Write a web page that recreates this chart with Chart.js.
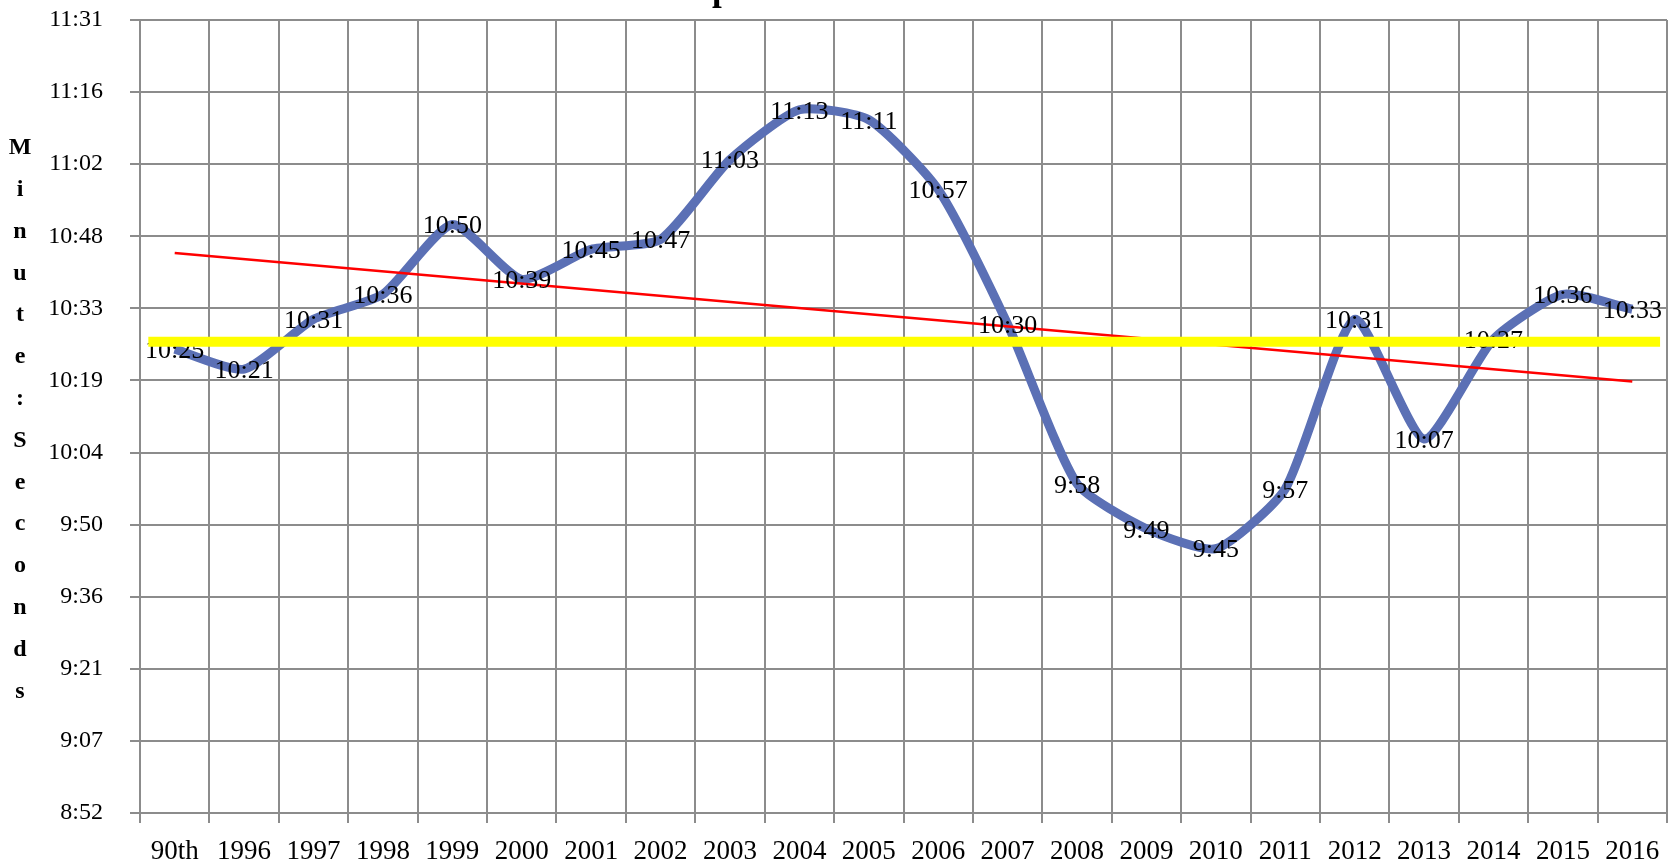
<!DOCTYPE html>
<html>
<head>
<meta charset="utf-8">
<title>90th Percentile Response Times</title>
<script src="https://cdn.jsdelivr.net/npm/chart.js@4.4.0/dist/chart.umd.min.js"></script>
<style>
  html, body { margin: 0; padding: 0; background: #fff; }
  canvas { display: block; }
</style>
</head>
<body>
<canvas id="responseChart" width="1672" height="864"></canvas>
<script>
const years = ['90th', '1996', '1997', '1998', '1999', '2000', '2001', '2002', '2003', '2004', '2005',
  '2006', '2007', '2008', '2009', '2010', '2011', '2012', '2013', '2014', '2015', '2016']

// minutes:seconds as shown on the data labels
const responseTimes = ['10:25', '10:21', '10:31', '10:36', '10:50', '10:39', '10:45', '10:47', '11:03', '11:13', '11:11',
  '10:57', '10:30', '9:58', '9:49', '9:45', '9:57', '10:31', '10:07', '10:27', '10:36', '10:33']

const yTickLabels = ['8:52', '9:07', '9:21', '9:36', '9:50', '10:04', '10:19', '10:33', '10:48', '11:02', '11:16', '11:31']
const yMin = 532   // 8:52 in seconds
const yMax = 691   // 11:31 in seconds

// yellow bar across the chart (seconds), and where it starts / ends in category units
const goalValue = 626.5
const goalFrom = -0.38
const goalTo = 21.4

const chartTitle = 'EMS 90th Percentile Total Response Times 1996 - 2016'
const yTitle = 'Minute:Seconds'

const FONT = "'Liberation Serif', 'Times New Roman', serif"
const GRID = '#8c8c8c'

function toSeconds(str) {
  const [m, s] = str.split(':')
  return Number(m) * 60 + Number(s)
}

const seconds = responseTimes.map(toSeconds)

// linear trendline (least squares over the series)
const n = seconds.length
const meanX = (n - 1) / 2
const meanY = seconds.reduce((a, b) => a + b, 0) / n
let sxy = 0, sxx = 0
seconds.forEach((y, i) => {
  sxy += (i - meanX) * (y - meanY)
  sxx += (i - meanX) * (i - meanX)
})
const slope = sxy / sxx
const trendAt = x => meanY + slope * (x - meanX)

const titlePlugin = {
  id: 'cutTitle',
  afterDraw(chart) {
    const ctx = chart.ctx
    ctx.save()
    // the title sits above the top edge, only its bottom shows
    ctx.font = 'bold 35px ' + FONT
    ctx.fillStyle = '#000'
    ctx.textAlign = 'left'
    ctx.textBaseline = 'alphabetic'
    ctx.fillText(chartTitle, 255, 0)

    // stacked y axis title
    ctx.font = 'bold 24px ' + FONT
    ctx.textAlign = 'center'
    ctx.textBaseline = 'middle'
    yTitle.split('').forEach((ch, i) => {
      ctx.fillText(ch, 20, 148 + i * 41.8)
    })
    ctx.restore()
  }
}

const labelPlugin = {
  id: 'pointLabels',
  afterDatasetDraw(chart, args) {
    // draw after the trendline, before the yellow bar
    if (args.index !== 1) return
    const meta = chart.getDatasetMeta(0)
    const ctx = chart.ctx
    ctx.save()
    ctx.font = '26px ' + FONT
    ctx.fillStyle = '#000'
    ctx.textAlign = 'center'
    ctx.textBaseline = 'middle'
    meta.data.forEach((pt, i) => {
      ctx.fillText(responseTimes[i], pt.x, pt.y + 2)
    })
    ctx.restore()
  }
}

new Chart(document.getElementById('responseChart'), {
  type: 'line',
  data: {
    labels: years,
    datasets: [
      {
        label: 'Response Time',
        data: seconds,
        xAxisID: 'x',
        borderColor: '#5b70b5',
        borderWidth: 9,
        tension: 0.2,
        pointRadius: 0,
        fill: false,
        order: 2
      },
      {
        label: 'Trend',
        data: [{ x: 0, y: trendAt(0) }, { x: n - 1, y: trendAt(n - 1) }],
        xAxisID: 'xLine',
        borderColor: '#ff0000',
        borderWidth: 2.5,
        pointRadius: 0,
        fill: false,
        order: 1
      },
      {
        label: 'Goal',
        data: [{ x: goalFrom, y: goalValue }, { x: goalTo, y: goalValue }],
        xAxisID: 'xLine',
        borderColor: '#ffff00',
        borderWidth: 10,
        borderCapStyle: 'butt',
        pointRadius: 0,
        fill: false,
        order: 0
      }
    ]
  },
  options: {
    responsive: false,
    animation: false,
    devicePixelRatio: 1,
    layout: { padding: { top: 20, right: 5, left: 0, bottom: 0 } },
    plugins: {
      legend: { display: false },
      tooltip: { enabled: false },
      title: { display: false }
    },
    scales: {
      x: {
        type: 'category',
        offset: true,
        grid: { offset: true, color: GRID, lineWidth: 2, tickLength: 10, drawTicks: true },
        border: { color: GRID, width: 2 },
        ticks: { color: '#000', font: { family: FONT, size: 27 }, padding: 13, maxRotation: 0, autoSkip: false },
        afterFit: scale => {
          scale.height = 51
          scale.paddingLeft = 0
          scale.paddingRight = 0
        }
      },
      xLine: {
        type: 'linear',
        display: false,
        min: -0.5,
        max: n - 0.5
      },
      y: {
        min: yMin,
        max: yMax,
        afterBuildTicks: scale => {
          scale.ticks = yTickLabels.map((_, i) => ({ value: yMin + i * (yMax - yMin) / (yTickLabels.length - 1) }))
        },
        grid: { color: GRID, lineWidth: 2, tickLength: 10, drawTicks: true },
        border: { color: GRID, width: 2 },
        ticks: {
          color: '#000',
          font: { family: FONT, size: 24 },
          padding: 27,
          callback: (v, i) => yTickLabels[i]
        },
        afterFit: scale => {
          scale.width = 140
          scale.paddingTop = 0
          scale.paddingBottom = 0
        }
      }
    }
  },
  plugins: [labelPlugin, titlePlugin]
})
</script>
</body>
</html>
